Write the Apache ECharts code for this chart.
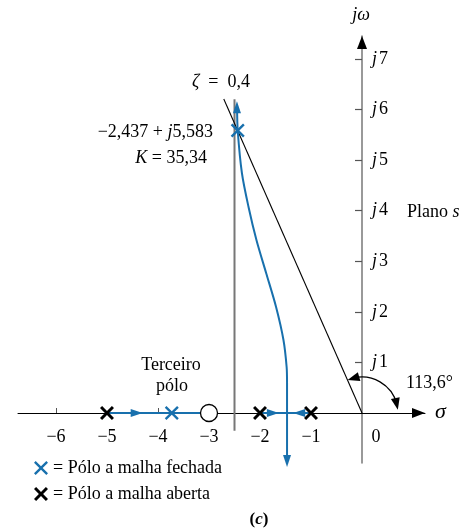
<!DOCTYPE html>
<html>
<head>
<meta charset="utf-8">
<script src="https://cdn.jsdelivr.net/npm/echarts@6/dist/echarts.min.js"></script>
<style>
  html, body { margin: 0; padding: 0; background: #ffffff; }
  #chart { width: 460px; height: 531px; }
</style>
</head>
<body>
<div id="chart"></div>
<script>
const SERIF = '"Liberation Serif", "Times New Roman", serif';
const BLUE = '#1870ad';
const GREY = '#777777';

// Axis ticks and labels of the s-plane
const realTickLabels = [-6, -5, -4, -3, -2, -1, 0];
const realTickMarks = [-6, -4];
const imagTicks = [1, 2, 3, 4, 5, 6, 7];
const sigmaRange = [-6.745, 1.235];
const omegaRange = [-0.988, 7.45];

// Open-loop poles / zero, and closed-loop poles at K = 35,34
const openLoopPoles = [[-5, 0], [-2, 0], [-1, 0]];
const openLoopZeros = [[-3, 0]];
const closedLoopPoles = [[-3.73, 0], [-2.437, 5.583]];

// Root-locus branches
const branchRealLeft = [[-5, 0], [-3, 0]];
const branchRealRight = [[-2, 0], [-1, 0]];
const branchUpperSigma = [-1.47, -1.47, -1.478, -1.54, -1.685, -1.88, -2.07, -2.225, -2.355, -2.437, -2.45];
const branchUpperOmega = [0, 0.6, 0.909, 1.443, 2.095, 2.767, 3.419, 4.071, 4.743, 5.583, 6.05];
const branchLower = [[-1.47, 0], [-1.47, -0.95]];
// Direction arrows on the locus: [sigma, omega, dSigma, dOmega] at the arrow tip
const locusArrows = [
  [-4.3, 0, 1, 0],
  [-1.63, 0, 1, 0],
  [-1.35, 0, -1, 0],
  [-2.452, 6.16, 0, 1],
  [-1.47, -1.067, 0, -1]
];

// Damping-ratio line (zeta = 0,4) and the asymptote
const zetaAngleDeg = 113.6;
const zetaLineLength = 6.77;
const asymptote = [[-2.5, -0.35], [-2.5, 6.2]];
const angleArc = { radius: 0.705, endDeg: 5 };

const rad = zetaAngleDeg * Math.PI / 180;
const zetaLine = [[0, 0], [zetaLineLength * Math.cos(rad), zetaLineLength * Math.sin(rad)]];
const branchUpper = branchUpperSigma.map((s, i) => [s, branchUpperOmega[i]]);
const axisArrows = [[sigmaRange[1], 0, 1, 0], [0, omegaRange[1], 0, 1]];

const X_BOLD = 'path://M0,15L15,0L50,35L85,0L100,15L65,50L100,85L85,100L50,65L15,100L0,85L35,50Z';
const X_MID = 'path://M0,12L12,0L50,38L88,0L100,12L62,50L100,88L88,100L50,62L12,100L0,88L38,50Z';

// grid box; the axes are shifted onto the origin of the s-plane
const GRID = { left: 18, right: 35, top: 36, bottom: 68 };
const CHART_W = 460, CHART_H = 531;
const plotW = CHART_W - GRID.left - GRID.right;
const plotH = CHART_H - GRID.top - GRID.bottom;
const xAxisShift = -plotH * (0 - omegaRange[0]) / (omegaRange[1] - omegaRange[0]);
const yAxisShift = -plotW * (0 - sigmaRange[0]) / (sigmaRange[1] - sigmaRange[0]);

function arrowHead(tip, from, len, half, color) {
  const a = Math.atan2(tip[1] - from[1], tip[0] - from[0]);
  const c = Math.cos(a), s = Math.sin(a);
  const bx = tip[0] - c * len, by = tip[1] - s * len;
  return {
    type: 'polygon',
    shape: { points: [[tip[0], tip[1]], [bx - s * half, by + c * half], [bx + s * half, by - c * half]] },
    style: { fill: color }
  };
}

function arrowSeries(data, color, len, half, z) {
  return {
    type: 'custom',
    data: data,
    z: z,
    silent: true,
    encode: { x: 0, y: 1 },
    renderItem: function (params, api) {
      const v0 = api.value(0), v1 = api.value(1);
      const tip = api.coord([v0, v1]);
      const from = api.coord([v0 - api.value(2) * 0.1, v1 - api.value(3) * 0.1]);
      return arrowHead(tip, from, len, half, color);
    }
  };
}

function lineSeries(data, color, width, z, smooth) {
  return {
    type: 'line',
    data: data,
    z: z,
    silent: true,
    smooth: smooth || false,
    showSymbol: false,
    symbol: 'none',
    lineStyle: { color: color, width: width },
    clip: false
  };
}

const chart = echarts.init(document.getElementById('chart'), null, { renderer: 'canvas' });

chart.setOption({
  animation: false,
  backgroundColor: '#ffffff',
  grid: GRID,
  xAxis: {
    type: 'value',
    min: sigmaRange[0],
    max: sigmaRange[1],
    offset: xAxisShift,
    axisLine: { onZero: false, lineStyle: { color: '#000', width: 1 } },
    axisTick: { show: true, inside: true, length: 5, customValues: realTickMarks, lineStyle: { color: '#555', width: 1 } },
    axisLabel: {
      customValues: realTickLabels,
      margin: 15,
      color: '#000',
      fontFamily: SERIF,
      fontSize: 18,
      formatter: v => v === 0 ? '{z|0}' : '\u2212' + Math.abs(v),
      rich: { z: { padding: [0, 0, 0, 28], fontFamily: SERIF, fontSize: 18, color: '#000' } }
    },
    splitLine: { show: false }
  },
  yAxis: {
    type: 'value',
    min: omegaRange[0],
    max: omegaRange[1],
    offset: yAxisShift,
    axisLine: { show: true, onZero: false, lineStyle: { color: GREY, width: 1.5 } },
    axisTick: { show: true, inside: false, length: 7, customValues: imagTicks, lineStyle: { color: '#555', width: 1.2 } },
    axisLabel: {
      inside: true,
      margin: 10,
      customValues: imagTicks,
      color: '#000',
      fontFamily: SERIF,
      fontSize: 18,
      formatter: v => '{j|j}{n|' + v + '}',
      rich: {
        j: { fontStyle: 'italic', fontFamily: SERIF, fontSize: 18, color: '#000', padding: [0, 2, 0, 0] },
        n: { fontFamily: SERIF, fontSize: 18, color: '#000' }
      }
    },
    splitLine: { show: false }
  },
  legend: {
    orient: 'vertical',
    left: 29,
    top: 454,
    itemWidth: 14,
    itemHeight: 14,
    itemGap: 8,
    selectedMode: false,
    data: ['Pólo a malha fechada', 'Pólo a malha aberta'],
    formatter: name => '= ' + name,
    textStyle: { fontFamily: SERIF, fontSize: 18, color: '#000' }
  },
  series: [
    lineSeries(asymptote, GREY, 2, 2),
    lineSeries(zetaLine, '#000', 1.1, 3),
    lineSeries(branchRealLeft, BLUE, 2, 4),
    lineSeries(branchRealRight, BLUE, 2, 4),
    lineSeries(branchUpper, BLUE, 2, 4, 0.3),
    lineSeries(branchLower, BLUE, 2, 4),
    arrowSeries(locusArrows, BLUE, 12, 4, 5),
    arrowSeries(axisArrows, '#000', 13, 5, 5),
    {
      // angle of the damping-ratio line, measured from the positive real axis
      type: 'custom',
      data: [[0, 0]],
      z: 5,
      silent: true,
      encode: { x: 0, y: 1 },
      renderItem: function (params, api) {
        const o = api.coord([0, 0]);
        const r = api.size([angleArc.radius, 0])[0];
        const a0 = -zetaAngleDeg * Math.PI / 180;
        const a1 = -angleArc.endDeg * Math.PI / 180;
        const p0 = [o[0] + r * Math.cos(a0), o[1] + r * Math.sin(a0)];
        const p1 = [o[0] + r * Math.cos(a1), o[1] + r * Math.sin(a1)];
        const q0 = [o[0] + r * Math.cos(a0 + 0.25), o[1] + r * Math.sin(a0 + 0.25)];
        const q1 = [o[0] + r * Math.cos(a1 - 0.25), o[1] + r * Math.sin(a1 - 0.25)];
        return {
          type: 'group',
          children: [
            { type: 'arc', shape: { cx: o[0], cy: o[1], r: r, startAngle: a0 + 0.15, endAngle: a1 - 0.15, clockwise: true },
              style: { stroke: '#000', lineWidth: 1.2, fill: null } },
            arrowHead(p0, q0, 12, 4.5, '#000'),
            arrowHead(p1, q1, 12, 4.5, '#000')
          ]
        };
      }
    },
    {
      name: 'Zero',
      type: 'scatter',
      data: openLoopZeros,
      z: 6,
      symbol: 'circle',
      symbolSize: 17,
      itemStyle: { color: '#ffffff', borderColor: '#000', borderWidth: 1.3, opacity: 1 },
      silent: true
    },
    {
      name: 'Pólo a malha aberta',
      type: 'scatter',
      data: openLoopPoles,
      z: 7,
      symbol: X_BOLD,
      symbolSize: 14,
      itemStyle: { color: '#000', opacity: 1 },
      silent: true
    },
    {
      name: 'Pólo a malha fechada',
      type: 'scatter',
      data: closedLoopPoles,
      z: 7,
      symbol: X_MID,
      symbolSize: 14,
      itemStyle: { color: BLUE, opacity: 1 },
      silent: true
    }
  ],
  graphic: [
    { type: 'text', x: 361, y: 15, style: { text: 'jω', fontFamily: SERIF, fontSize: 18, fontStyle: 'italic', fill: '#000', align: 'center', verticalAlign: 'middle' } },
    { type: 'text', x: 407, y: 212, style: { text: 'Plano {i|s}', fontFamily: SERIF, fontSize: 18, fill: '#000', align: 'left', verticalAlign: 'middle',
      rich: { i: { fontStyle: 'italic', fontFamily: SERIF, fontSize: 18 } } } },
    { type: 'text', x: 192, y: 82, style: { text: '{i|ζ}  =  0,4', fontFamily: SERIF, fontSize: 18, fill: '#000', align: 'left', verticalAlign: 'middle',
      rich: { i: { fontStyle: 'italic', fontFamily: SERIF, fontSize: 18 } } } },
    { type: 'text', x: 213, y: 132, style: { text: '\u22122,437 + {i|j}5,583', fontFamily: SERIF, fontSize: 18, fill: '#000', align: 'right', verticalAlign: 'middle',
      rich: { i: { fontStyle: 'italic', fontFamily: SERIF, fontSize: 18 } } } },
    { type: 'text', x: 207, y: 158, style: { text: '{i|K} = 35,34', fontFamily: SERIF, fontSize: 18, fill: '#000', align: 'right', verticalAlign: 'middle',
      rich: { i: { fontStyle: 'italic', fontFamily: SERIF, fontSize: 18 } } } },
    { type: 'text', x: 171, y: 365, style: { text: 'Terceiro', fontFamily: SERIF, fontSize: 18, fill: '#000', align: 'center', verticalAlign: 'middle' } },
    { type: 'text', x: 172, y: 386, style: { text: 'pólo', fontFamily: SERIF, fontSize: 18, fill: '#000', align: 'center', verticalAlign: 'middle' } },
    { type: 'text', x: 406, y: 383, style: { text: '113,6°', fontFamily: SERIF, fontSize: 18, fill: '#000', align: 'left', verticalAlign: 'middle' } },
    { type: 'text', x: 435, y: 412, style: { text: 'σ', fontFamily: SERIF, fontSize: 22, fontStyle: 'italic', fill: '#000', align: 'left', verticalAlign: 'middle' } },
    { type: 'text', x: 259, y: 520, style: { text: '({c|c})', fontFamily: SERIF, fontSize: 17, fontWeight: 'bold', fill: '#000', align: 'center', verticalAlign: 'middle',
      rich: { c: { fontStyle: 'italic', fontWeight: 'bold', fontFamily: SERIF, fontSize: 17 } } } }
  ]
});
</script>
</body>
</html>
